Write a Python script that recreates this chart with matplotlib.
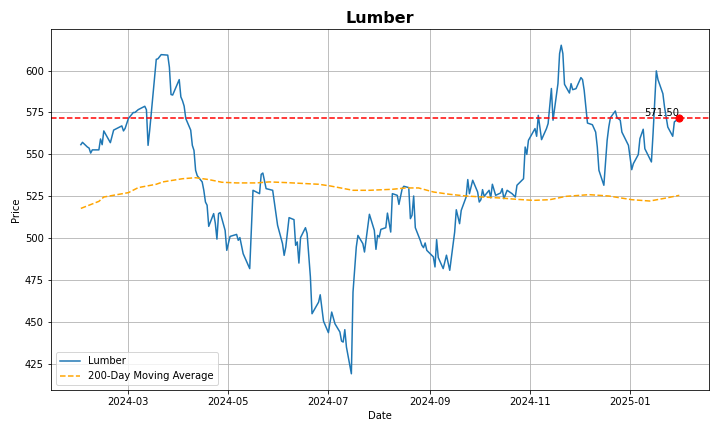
import matplotlib
matplotlib.use("Agg")
import matplotlib.pyplot as plt
import pandas as pd

# Lumber close prices
dates = [
    "2024-02-01", "2024-02-02", "2024-02-05", "2024-02-06", "2024-02-07", "2024-02-08",
    "2024-02-12", "2024-02-13", "2024-02-14", "2024-02-15", "2024-02-19", "2024-02-21",
    "2024-02-26", "2024-02-27", "2024-02-28",
    "2024-03-01", "2024-03-04", "2024-03-05", "2024-03-07", "2024-03-11", "2024-03-12",
    "2024-03-13", "2024-03-14", "2024-03-18", "2024-03-19", "2024-03-21", "2024-03-25",
    "2024-03-26", "2024-03-27", "2024-03-28",
    "2024-04-01", "2024-04-02", "2024-04-03", "2024-04-04", "2024-04-05", "2024-04-08",
    "2024-04-09", "2024-04-10", "2024-04-11", "2024-04-12", "2024-04-15", "2024-04-16",
    "2024-04-17", "2024-04-18", "2024-04-19", "2024-04-22", "2024-04-23", "2024-04-24",
    "2024-04-25", "2024-04-26", "2024-04-29", "2024-04-30",
    "2024-05-02", "2024-05-06", "2024-05-07", "2024-05-08", "2024-05-10", "2024-05-14",
    "2024-05-16", "2024-05-20", "2024-05-21", "2024-05-22", "2024-05-24", "2024-05-28",
    "2024-05-31",
    "2024-06-03", "2024-06-04", "2024-06-05", "2024-06-07", "2024-06-10", "2024-06-11",
    "2024-06-12", "2024-06-13", "2024-06-14", "2024-06-17", "2024-06-18", "2024-06-20",
    "2024-06-21", "2024-06-25", "2024-06-26", "2024-06-28",
    "2024-07-01", "2024-07-03", "2024-07-05", "2024-07-08", "2024-07-09", "2024-07-10",
    "2024-07-11", "2024-07-12", "2024-07-15", "2024-07-16", "2024-07-18", "2024-07-19",
    "2024-07-22", "2024-07-23", "2024-07-26", "2024-07-29", "2024-07-30", "2024-07-31",
    "2024-08-01", "2024-08-02", "2024-08-05", "2024-08-06", "2024-08-08", "2024-08-09",
    "2024-08-12", "2024-08-13", "2024-08-15", "2024-08-16", "2024-08-19", "2024-08-20",
    "2024-08-21", "2024-08-22", "2024-08-23", "2024-08-26", "2024-08-27", "2024-08-28",
    "2024-08-29", "2024-08-30",
    "2024-09-03", "2024-09-04", "2024-09-05", "2024-09-06", "2024-09-09", "2024-09-11",
    "2024-09-13", "2024-09-16", "2024-09-17", "2024-09-19", "2024-09-20", "2024-09-23",
    "2024-09-24", "2024-09-25", "2024-09-27", "2024-09-30",
    "2024-10-01", "2024-10-02", "2024-10-03", "2024-10-04", "2024-10-07", "2024-10-08",
    "2024-10-09", "2024-10-11", "2024-10-14", "2024-10-15", "2024-10-16", "2024-10-18",
    "2024-10-21", "2024-10-23", "2024-10-24", "2024-10-28", "2024-10-29", "2024-10-30",
    "2024-10-31",
    "2024-11-04", "2024-11-05", "2024-11-06", "2024-11-08", "2024-11-11", "2024-11-12",
    "2024-11-14", "2024-11-15", "2024-11-18", "2024-11-19", "2024-11-20", "2024-11-21",
    "2024-11-22", "2024-11-25", "2024-11-26", "2024-11-27", "2024-11-29",
    "2024-12-02", "2024-12-03", "2024-12-04", "2024-12-06", "2024-12-09", "2024-12-11",
    "2024-12-12", "2024-12-13", "2024-12-16", "2024-12-18", "2024-12-19", "2024-12-20",
    "2024-12-23", "2024-12-24", "2024-12-26", "2024-12-27", "2024-12-31",
    "2025-01-02", "2025-01-03", "2025-01-06", "2025-01-07", "2025-01-09", "2025-01-10",
    "2025-01-14", "2025-01-15", "2025-01-17", "2025-01-18", "2025-01-21", "2025-01-22",
    "2025-01-24", "2025-01-27", "2025-01-28", "2025-01-31",
]
prices = [
    555.8, 557.2, 554.4, 553.8, 550.8, 552.7,
    552.7, 559.2, 555.8, 564.0, 557.0, 564.5,
    567.0, 564.0, 565.5,
    571.4, 575.0, 575.0, 576.7, 578.7, 576.6,
    555.4, 564.5, 606.7, 607.0, 609.5, 609.2,
    602.0, 585.7, 585.4,
    594.6, 584.3, 582.0, 578.8, 571.4, 564.5,
    555.4, 552.4, 540.5, 537.3, 533.6, 528.6,
    521.6, 519.7, 507.1, 514.7, 509.0, 499.5,
    514.7, 515.3, 504.7, 492.8,
    501.1, 502.3, 498.8, 500.4, 490.8, 481.9,
    528.6, 526.6, 538.1, 538.9, 529.6, 528.6,
    507.7,
    496.8, 489.8, 494.8, 512.3, 511.1, 495.8,
    497.8, 485.2, 500.4, 506.3, 502.8, 477.0,
    455.0, 461.9, 466.3, 450.6,
    443.7, 456.0, 449.0, 444.1, 438.7, 438.1,
    445.5, 435.1, 419.2, 467.9, 494.8, 501.7,
    496.8, 491.8, 514.3, 504.7, 493.4, 501.7,
    500.7, 505.3, 506.3, 515.0, 503.7, 526.6,
    525.6, 520.2, 529.6, 531.0, 530.2, 511.7,
    513.7, 525.2, 506.3, 498.8, 495.8, 494.4,
    497.2, 492.8,
    488.9, 482.9, 499.2, 488.5, 481.9, 489.9,
    480.9, 503.7, 517.0, 508.7, 516.6, 524.6,
    535.0, 526.6, 534.6, 527.6,
    521.6, 523.0, 529.0, 525.0, 528.6, 524.1,
    532.2, 525.6, 527.0, 529.6, 523.6, 528.6,
    526.6, 524.6, 531.6, 535.5, 554.4, 550.0,
    558.4,
    565.4, 560.8, 573.3, 558.8, 565.4, 568.4,
    589.3, 570.4, 592.2, 610.1, 615.1, 610.1,
    591.8, 586.6, 592.2, 588.6, 589.2,
    595.8, 594.6, 588.2, 568.7, 567.7, 563.3,
    554.4, 540.5, 531.6, 558.4, 566.3, 571.9,
    575.9, 571.9, 570.4, 563.3, 555.4,
    540.9, 544.5, 549.9, 559.4, 565.0, 553.4,
    545.5, 562.3, 599.8, 594.6, 586.2, 578.3,
    566.3, 560.8, 569.4, 571.5,
]

# 200-day moving average (smooth curve, key points)
ma_dates = [
    "2024-02-01", "2024-02-12", "2024-02-15", "2024-03-01", "2024-03-07", "2024-03-18",
    "2024-03-22", "2024-04-03", "2024-04-11", "2024-04-19", "2024-04-27", "2024-05-06",
    "2024-05-18", "2024-05-26", "2024-06-05", "2024-06-25", "2024-07-02", "2024-07-16",
    "2024-07-26", "2024-08-09", "2024-08-17", "2024-08-25", "2024-09-03", "2024-09-13",
    "2024-09-23", "2024-10-03", "2024-10-14", "2024-10-24", "2024-11-03", "2024-11-13",
    "2024-11-23", "2024-12-07", "2024-12-19", "2025-01-02", "2025-01-13", "2025-01-23",
    "2025-01-31",
]
ma_values = [
    517.8, 522.0, 524.6, 527.2, 530.2, 532.2,
    533.6, 535.5, 536.1, 535.0, 533.4, 533.0,
    533.0, 533.6, 533.2, 532.2, 531.2, 528.6,
    528.6, 529.2, 530.0, 530.0, 527.6, 526.2,
    525.2, 524.6, 524.0, 523.2, 522.6, 523.0,
    525.0, 526.0, 525.2, 523.0, 522.2, 524.0,
    525.6,
]

dates = pd.to_datetime(dates)
ma_dates = pd.to_datetime(ma_dates)
last_price = prices[-1]

fig, ax = plt.subplots(figsize=(10, 6), dpi=72)
ax.plot(dates, prices, label="Lumber")
ax.plot(ma_dates, ma_values, color="orange", linestyle="--",
        label="200-Day Moving Average")
ax.axhline(last_price, color="red", linestyle="--")
ax.scatter(dates[-1], last_price, color="red", s=50, zorder=5)
ax.text(dates[-1], last_price, "{:.2f}".format(last_price),
        ha="right", va="bottom", fontsize=10)

ax.set_title("Lumber", fontsize=16, fontweight="bold")
ax.set_xlabel("Date")
ax.set_ylabel("Price")
ax.grid(True)
ax.legend(loc="lower left")

plt.tight_layout()
plt.savefig("out.png", dpi=72)
